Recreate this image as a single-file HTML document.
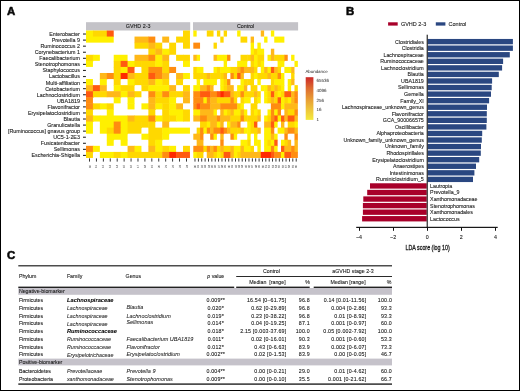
<!DOCTYPE html>
<html><head><meta charset="utf-8"><title>Figure</title>
<style>
html,body{margin:0;padding:0;background:#fff;}
body{width:520px;height:391px;overflow:hidden;}
.fig{position:relative;width:520px;height:391px;box-sizing:border-box;border:1px solid #000;background:#fff;}
svg{position:absolute;left:0;top:0;}
svg text{font-family:"Liberation Sans",sans-serif;stroke:#1a1a1a;stroke-width:0.1px;}
svg text.nb{stroke:none;}
</style></head><body>
<div class="fig"></div>
<svg width="520" height="391" viewBox="0 0 520 391">
<rect x="86" y="22.2" width="104.2" height="8.3" fill="#c4c3c8"/>
<rect x="193" y="22.2" width="105.1" height="8.3" fill="#c4c3c8"/>
<rect x="86.00" y="30.50" width="7.43" height="6.57" fill="#fff000"/>
<rect x="92.93" y="30.50" width="14.36" height="6.57" fill="#ffd800"/>
<rect x="106.79" y="30.50" width="6.93" height="6.57" fill="#ff5a10"/>
<rect x="183.02" y="30.50" width="6.93" height="6.57" fill="#ffd800"/>
<rect x="86.00" y="36.57" width="27.72" height="6.07" fill="#fff000"/>
<rect x="134.51" y="36.57" width="14.36" height="6.57" fill="#ffb818"/>
<rect x="148.37" y="36.57" width="6.93" height="6.57" fill="#ff8c10"/>
<rect x="162.23" y="36.57" width="6.93" height="6.07" fill="#ffb818"/>
<rect x="176.09" y="36.57" width="7.43" height="6.07" fill="#ffd800"/>
<rect x="183.02" y="36.57" width="6.93" height="6.57" fill="#ffd800"/>
<rect x="134.51" y="42.64" width="14.36" height="6.07" fill="#ffd800"/>
<rect x="148.37" y="42.64" width="7.43" height="6.57" fill="#ffb818"/>
<rect x="155.30" y="42.64" width="6.93" height="6.57" fill="#ffd800"/>
<rect x="169.16" y="42.64" width="6.93" height="6.57" fill="#ffd800"/>
<rect x="183.02" y="42.64" width="6.93" height="6.07" fill="#ffd800"/>
<rect x="148.37" y="48.71" width="7.43" height="6.57" fill="#ffd800"/>
<rect x="155.30" y="48.71" width="7.43" height="6.57" fill="#ffb818"/>
<rect x="162.23" y="48.71" width="7.43" height="6.57" fill="#fff000"/>
<rect x="169.16" y="48.71" width="6.93" height="6.07" fill="#ffd800"/>
<rect x="86.00" y="54.78" width="7.43" height="6.57" fill="#ffd800"/>
<rect x="92.93" y="54.78" width="6.93" height="6.07" fill="#fff000"/>
<rect x="113.72" y="54.78" width="13.86" height="6.57" fill="#fff000"/>
<rect x="134.51" y="54.78" width="14.36" height="6.57" fill="#ffb818"/>
<rect x="148.37" y="54.78" width="7.43" height="6.57" fill="#ff8c10"/>
<rect x="155.30" y="54.78" width="7.43" height="6.57" fill="#fff000"/>
<rect x="162.23" y="54.78" width="6.93" height="6.57" fill="#ffb818"/>
<rect x="176.09" y="54.78" width="7.43" height="6.07" fill="#ffd800"/>
<rect x="183.02" y="54.78" width="6.93" height="6.57" fill="#ffd800"/>
<rect x="86.00" y="60.85" width="6.93" height="6.07" fill="#fff000"/>
<rect x="113.72" y="60.85" width="7.43" height="6.57" fill="#ffd800"/>
<rect x="120.65" y="60.85" width="7.43" height="6.57" fill="#ff5a10"/>
<rect x="127.58" y="60.85" width="7.43" height="6.57" fill="#fff000"/>
<rect x="134.51" y="60.85" width="7.43" height="6.07" fill="#ffd800"/>
<rect x="141.44" y="60.85" width="14.36" height="6.57" fill="#ffd800"/>
<rect x="155.30" y="60.85" width="7.43" height="6.57" fill="#fff000"/>
<rect x="162.23" y="60.85" width="6.93" height="6.57" fill="#ffd800"/>
<rect x="183.02" y="60.85" width="6.93" height="6.07" fill="#fff000"/>
<rect x="113.72" y="66.92" width="7.43" height="6.57" fill="#ffd800"/>
<rect x="120.65" y="66.92" width="7.43" height="6.57" fill="#fff000"/>
<rect x="127.58" y="66.92" width="6.93" height="6.57" fill="#ff5a10"/>
<rect x="141.44" y="66.92" width="7.43" height="6.57" fill="#ffd800"/>
<rect x="148.37" y="66.92" width="14.36" height="6.57" fill="#ff8c10"/>
<rect x="162.23" y="66.92" width="7.43" height="6.57" fill="#ffd800"/>
<rect x="169.16" y="66.92" width="6.93" height="6.07" fill="#ff8c10"/>
<rect x="99.86" y="72.99" width="7.43" height="6.57" fill="#ffb818"/>
<rect x="106.79" y="72.99" width="7.43" height="6.07" fill="#ff8c10"/>
<rect x="113.72" y="72.99" width="7.43" height="6.57" fill="#ffd800"/>
<rect x="120.65" y="72.99" width="7.43" height="6.07" fill="#ff2a00"/>
<rect x="127.58" y="72.99" width="7.43" height="6.57" fill="#ffb818"/>
<rect x="134.51" y="72.99" width="14.36" height="6.57" fill="#ffd800"/>
<rect x="148.37" y="72.99" width="7.43" height="6.57" fill="#ff5a10"/>
<rect x="155.30" y="72.99" width="7.43" height="6.57" fill="#ff8c10"/>
<rect x="162.23" y="72.99" width="6.93" height="6.57" fill="#ffb818"/>
<rect x="176.09" y="72.99" width="7.43" height="6.57" fill="#ffb818"/>
<rect x="183.02" y="72.99" width="6.93" height="6.07" fill="#fff000"/>
<rect x="86.00" y="79.06" width="6.93" height="6.57" fill="#fff000"/>
<rect x="99.86" y="79.06" width="6.93" height="6.57" fill="#fff000"/>
<rect x="113.72" y="79.06" width="6.93" height="6.57" fill="#ffd800"/>
<rect x="127.58" y="79.06" width="7.43" height="6.57" fill="#fff000"/>
<rect x="134.51" y="79.06" width="7.43" height="6.07" fill="#ffd800"/>
<rect x="141.44" y="79.06" width="7.43" height="6.57" fill="#ffd800"/>
<rect x="148.37" y="79.06" width="7.43" height="6.57" fill="#ffb818"/>
<rect x="155.30" y="79.06" width="7.43" height="6.57" fill="#fff000"/>
<rect x="162.23" y="79.06" width="6.93" height="6.57" fill="#ffd800"/>
<rect x="176.09" y="79.06" width="6.93" height="6.07" fill="#ffd800"/>
<rect x="86.00" y="85.13" width="7.43" height="6.57" fill="#ffb818"/>
<rect x="92.93" y="85.13" width="7.43" height="6.57" fill="#ff5a10"/>
<rect x="99.86" y="85.13" width="6.93" height="6.57" fill="#ffb818"/>
<rect x="113.72" y="85.13" width="7.43" height="6.57" fill="#fff000"/>
<rect x="120.65" y="85.13" width="13.86" height="6.57" fill="#ffd800"/>
<rect x="141.44" y="85.13" width="7.43" height="6.07" fill="#ffd800"/>
<rect x="148.37" y="85.13" width="21.29" height="6.57" fill="#fff000"/>
<rect x="169.16" y="85.13" width="6.93" height="6.57" fill="#ffb818"/>
<rect x="183.02" y="85.13" width="6.93" height="6.57" fill="#ffd800"/>
<rect x="86.00" y="91.20" width="7.43" height="6.57" fill="#ff5a10"/>
<rect x="92.93" y="91.20" width="14.36" height="6.07" fill="#ffd800"/>
<rect x="106.79" y="91.20" width="7.43" height="6.07" fill="#ffb818"/>
<rect x="113.72" y="91.20" width="7.43" height="6.57" fill="#ffb818"/>
<rect x="120.65" y="91.20" width="7.43" height="6.07" fill="#fff000"/>
<rect x="127.58" y="91.20" width="7.43" height="6.57" fill="#ffb818"/>
<rect x="134.51" y="91.20" width="6.93" height="6.07" fill="#ffd800"/>
<rect x="148.37" y="91.20" width="7.43" height="6.57" fill="#ff8c10"/>
<rect x="155.30" y="91.20" width="7.43" height="6.57" fill="#ffd800"/>
<rect x="162.23" y="91.20" width="7.43" height="6.57" fill="#ff8c10"/>
<rect x="169.16" y="91.20" width="7.43" height="6.57" fill="#ffd800"/>
<rect x="176.09" y="91.20" width="7.43" height="6.07" fill="#ffd800"/>
<rect x="183.02" y="91.20" width="6.93" height="6.57" fill="#ffb818"/>
<rect x="86.00" y="97.27" width="6.93" height="6.57" fill="#ff8c10"/>
<rect x="113.72" y="97.27" width="6.93" height="6.07" fill="#fff000"/>
<rect x="127.58" y="97.27" width="6.93" height="6.57" fill="#fff000"/>
<rect x="148.37" y="97.27" width="7.43" height="6.57" fill="#ffb818"/>
<rect x="155.30" y="97.27" width="14.36" height="6.57" fill="#ffd800"/>
<rect x="169.16" y="97.27" width="6.93" height="6.57" fill="#fff000"/>
<rect x="183.02" y="97.27" width="6.93" height="6.07" fill="#ffb818"/>
<rect x="86.00" y="103.34" width="7.43" height="6.57" fill="#ff8c10"/>
<rect x="92.93" y="103.34" width="7.43" height="6.07" fill="#ffd800"/>
<rect x="99.86" y="103.34" width="7.43" height="6.07" fill="#fff000"/>
<rect x="106.79" y="103.34" width="6.93" height="6.57" fill="#ffd800"/>
<rect x="127.58" y="103.34" width="6.93" height="6.07" fill="#fff000"/>
<rect x="141.44" y="103.34" width="7.43" height="6.07" fill="#fff000"/>
<rect x="148.37" y="103.34" width="7.43" height="6.57" fill="#ffb818"/>
<rect x="155.30" y="103.34" width="7.43" height="6.07" fill="#fff000"/>
<rect x="162.23" y="103.34" width="7.43" height="6.57" fill="#ffd800"/>
<rect x="169.16" y="103.34" width="7.43" height="6.57" fill="#fff000"/>
<rect x="176.09" y="103.34" width="6.93" height="6.57" fill="#ffb818"/>
<rect x="86.00" y="109.41" width="6.93" height="6.57" fill="#ffd800"/>
<rect x="106.79" y="109.41" width="6.93" height="6.57" fill="#fff000"/>
<rect x="148.37" y="109.41" width="6.93" height="6.57" fill="#ffd800"/>
<rect x="162.23" y="109.41" width="7.43" height="6.57" fill="#ffd800"/>
<rect x="169.16" y="109.41" width="14.36" height="6.57" fill="#fff000"/>
<rect x="183.02" y="109.41" width="6.93" height="6.57" fill="#ffd800"/>
<rect x="86.00" y="115.48" width="7.43" height="6.57" fill="#ffb818"/>
<rect x="92.93" y="115.48" width="7.43" height="6.07" fill="#fff000"/>
<rect x="99.86" y="115.48" width="28.22" height="6.57" fill="#fff000"/>
<rect x="127.58" y="115.48" width="7.43" height="6.57" fill="#ffb818"/>
<rect x="134.51" y="115.48" width="14.36" height="6.57" fill="#ffd800"/>
<rect x="148.37" y="115.48" width="7.43" height="6.57" fill="#ff8c10"/>
<rect x="155.30" y="115.48" width="7.43" height="6.07" fill="#fff000"/>
<rect x="162.23" y="115.48" width="7.43" height="6.57" fill="#ffd800"/>
<rect x="169.16" y="115.48" width="7.43" height="6.07" fill="#ffd800"/>
<rect x="176.09" y="115.48" width="7.43" height="6.07" fill="#fff000"/>
<rect x="183.02" y="115.48" width="6.93" height="6.07" fill="#ffd800"/>
<rect x="86.00" y="121.55" width="6.93" height="6.57" fill="#fff000"/>
<rect x="99.86" y="121.55" width="14.36" height="6.57" fill="#fff000"/>
<rect x="113.72" y="121.55" width="7.43" height="6.57" fill="#ff8c10"/>
<rect x="120.65" y="121.55" width="7.43" height="6.57" fill="#fff000"/>
<rect x="127.58" y="121.55" width="14.36" height="6.57" fill="#ffd800"/>
<rect x="141.44" y="121.55" width="7.43" height="6.07" fill="#ffd800"/>
<rect x="148.37" y="121.55" width="6.93" height="6.57" fill="#ffd800"/>
<rect x="162.23" y="121.55" width="6.93" height="6.57" fill="#ffb818"/>
<rect x="86.00" y="127.62" width="6.93" height="6.07" fill="#fff000"/>
<rect x="99.86" y="127.62" width="7.43" height="6.07" fill="#fff000"/>
<rect x="106.79" y="127.62" width="7.43" height="6.57" fill="#ffd800"/>
<rect x="113.72" y="127.62" width="7.43" height="6.57" fill="#ff8c10"/>
<rect x="120.65" y="127.62" width="7.43" height="6.57" fill="#fff000"/>
<rect x="127.58" y="127.62" width="13.86" height="6.07" fill="#ffd800"/>
<rect x="148.37" y="127.62" width="14.36" height="6.57" fill="#ffd800"/>
<rect x="162.23" y="127.62" width="7.43" height="6.57" fill="#fff000"/>
<rect x="169.16" y="127.62" width="20.79" height="6.07" fill="#fff000"/>
<rect x="106.79" y="133.69" width="7.43" height="6.57" fill="#fff000"/>
<rect x="113.72" y="133.69" width="7.43" height="6.07" fill="#fff000"/>
<rect x="120.65" y="133.69" width="6.93" height="6.57" fill="#fff000"/>
<rect x="141.44" y="133.69" width="7.43" height="6.07" fill="#fff000"/>
<rect x="148.37" y="133.69" width="14.36" height="6.57" fill="#ffd800"/>
<rect x="162.23" y="133.69" width="6.93" height="6.07" fill="#fff000"/>
<rect x="106.79" y="139.76" width="6.93" height="6.07" fill="#fff000"/>
<rect x="120.65" y="139.76" width="6.93" height="6.07" fill="#fff000"/>
<rect x="148.37" y="139.76" width="7.43" height="6.57" fill="#ffd800"/>
<rect x="155.30" y="139.76" width="6.93" height="6.57" fill="#fff000"/>
<rect x="86.00" y="145.83" width="7.43" height="6.57" fill="#ff8c10"/>
<rect x="92.93" y="145.83" width="6.93" height="6.07" fill="#fff000"/>
<rect x="127.58" y="145.83" width="7.43" height="6.57" fill="#ffb818"/>
<rect x="134.51" y="145.83" width="6.93" height="6.57" fill="#fff000"/>
<rect x="148.37" y="145.83" width="7.43" height="6.57" fill="#ffb818"/>
<rect x="155.30" y="145.83" width="7.43" height="6.57" fill="#fff000"/>
<rect x="162.23" y="145.83" width="7.43" height="6.57" fill="#ffd800"/>
<rect x="169.16" y="145.83" width="6.93" height="6.57" fill="#fff000"/>
<rect x="183.02" y="145.83" width="6.93" height="6.57" fill="#ffd800"/>
<rect x="86.00" y="151.90" width="6.93" height="6.07" fill="#ffd800"/>
<rect x="99.86" y="151.90" width="14.36" height="6.07" fill="#fff000"/>
<rect x="113.72" y="151.90" width="7.43" height="6.07" fill="#ffd800"/>
<rect x="120.65" y="151.90" width="7.43" height="6.07" fill="#fff000"/>
<rect x="127.58" y="151.90" width="35.15" height="6.07" fill="#ffd800"/>
<rect x="162.23" y="151.90" width="7.43" height="6.07" fill="#ff8c10"/>
<rect x="169.16" y="151.90" width="7.43" height="6.07" fill="#ff2a00"/>
<rect x="176.09" y="151.90" width="13.86" height="6.07" fill="#ff5a10"/>
<rect x="193.30" y="30.50" width="3.37" height="6.07" fill="#fff000"/>
<rect x="206.79" y="30.50" width="6.75" height="6.07" fill="#ffd800"/>
<rect x="216.91" y="30.50" width="3.37" height="6.07" fill="#ffd800"/>
<rect x="223.66" y="30.50" width="3.37" height="6.07" fill="#ffd800"/>
<rect x="237.15" y="30.50" width="3.37" height="6.07" fill="#fff000"/>
<rect x="260.76" y="30.50" width="3.37" height="6.07" fill="#ffb818"/>
<rect x="270.88" y="30.50" width="3.37" height="6.07" fill="#fff000"/>
<rect x="220.28" y="36.57" width="3.37" height="6.07" fill="#ffd800"/>
<rect x="240.52" y="36.57" width="6.75" height="6.07" fill="#ffd800"/>
<rect x="250.64" y="36.57" width="3.37" height="6.57" fill="#ffb818"/>
<rect x="264.13" y="36.57" width="3.37" height="6.07" fill="#fff000"/>
<rect x="274.25" y="36.57" width="10.12" height="6.07" fill="#fff000"/>
<rect x="193.30" y="42.64" width="6.75" height="6.07" fill="#ff8c10"/>
<rect x="213.54" y="42.64" width="3.37" height="6.07" fill="#ffd800"/>
<rect x="250.64" y="42.64" width="3.37" height="6.57" fill="#fff000"/>
<rect x="257.39" y="42.64" width="3.37" height="6.57" fill="#fff000"/>
<rect x="250.64" y="48.71" width="3.87" height="6.57" fill="#fff000"/>
<rect x="254.01" y="48.71" width="3.87" height="6.57" fill="#ffd800"/>
<rect x="257.39" y="48.71" width="6.75" height="6.57" fill="#fff000"/>
<rect x="270.88" y="48.71" width="3.37" height="6.57" fill="#ffb818"/>
<rect x="193.30" y="54.78" width="3.87" height="6.07" fill="#ffb818"/>
<rect x="196.67" y="54.78" width="3.37" height="6.07" fill="#fff000"/>
<rect x="213.54" y="54.78" width="3.87" height="6.07" fill="#ffb818"/>
<rect x="216.91" y="54.78" width="7.25" height="6.07" fill="#fff000"/>
<rect x="223.66" y="54.78" width="3.87" height="6.57" fill="#fff000"/>
<rect x="227.03" y="54.78" width="3.37" height="6.07" fill="#ff8c10"/>
<rect x="240.52" y="54.78" width="7.25" height="6.57" fill="#ffd800"/>
<rect x="247.27" y="54.78" width="3.87" height="6.07" fill="#ffd800"/>
<rect x="250.64" y="54.78" width="3.87" height="6.57" fill="#ffb818"/>
<rect x="254.01" y="54.78" width="3.87" height="6.57" fill="#fff000"/>
<rect x="257.39" y="54.78" width="6.75" height="6.57" fill="#ffd800"/>
<rect x="267.51" y="54.78" width="3.87" height="6.07" fill="#fff000"/>
<rect x="270.88" y="54.78" width="3.87" height="6.07" fill="#ffb818"/>
<rect x="274.25" y="54.78" width="3.87" height="6.07" fill="#ffd800"/>
<rect x="277.62" y="54.78" width="7.25" height="6.57" fill="#ffd800"/>
<rect x="284.37" y="54.78" width="3.37" height="6.07" fill="#ff8c10"/>
<rect x="291.12" y="54.78" width="3.37" height="6.07" fill="#fff000"/>
<rect x="223.66" y="60.85" width="3.37" height="6.57" fill="#fff000"/>
<rect x="237.15" y="60.85" width="10.12" height="6.57" fill="#fff000"/>
<rect x="250.64" y="60.85" width="3.87" height="6.57" fill="#ffd800"/>
<rect x="254.01" y="60.85" width="3.87" height="6.57" fill="#fff000"/>
<rect x="257.39" y="60.85" width="3.87" height="6.07" fill="#ffd800"/>
<rect x="260.76" y="60.85" width="3.37" height="6.57" fill="#fff000"/>
<rect x="277.62" y="60.85" width="3.87" height="6.57" fill="#fff000"/>
<rect x="281.00" y="60.85" width="3.37" height="6.07" fill="#fff000"/>
<rect x="294.49" y="60.85" width="3.37" height="6.07" fill="#fff000"/>
<rect x="193.30" y="66.92" width="3.87" height="6.57" fill="#ffd800"/>
<rect x="196.67" y="66.92" width="6.75" height="6.57" fill="#fff000"/>
<rect x="213.54" y="66.92" width="3.87" height="6.57" fill="#fff000"/>
<rect x="216.91" y="66.92" width="3.87" height="6.57" fill="#ffd800"/>
<rect x="220.28" y="66.92" width="7.25" height="6.57" fill="#fff000"/>
<rect x="227.03" y="66.92" width="3.87" height="6.07" fill="#fff000"/>
<rect x="230.40" y="66.92" width="7.25" height="6.57" fill="#ffd800"/>
<rect x="237.15" y="66.92" width="3.87" height="6.57" fill="#ffb818"/>
<rect x="240.52" y="66.92" width="3.87" height="6.57" fill="#ff8c10"/>
<rect x="243.90" y="66.92" width="7.25" height="6.07" fill="#ffb818"/>
<rect x="250.64" y="66.92" width="3.87" height="6.57" fill="#ffb818"/>
<rect x="254.01" y="66.92" width="3.37" height="6.57" fill="#ffd800"/>
<rect x="260.76" y="66.92" width="3.87" height="6.57" fill="#fff000"/>
<rect x="264.13" y="66.92" width="3.87" height="6.57" fill="#ffb818"/>
<rect x="267.51" y="66.92" width="3.87" height="6.57" fill="#fff000"/>
<rect x="270.88" y="66.92" width="3.87" height="6.57" fill="#ff5a10"/>
<rect x="274.25" y="66.92" width="3.87" height="6.57" fill="#ffb818"/>
<rect x="277.62" y="66.92" width="3.37" height="6.57" fill="#ffd800"/>
<rect x="284.37" y="66.92" width="7.25" height="6.07" fill="#fff000"/>
<rect x="291.12" y="66.92" width="3.37" height="6.57" fill="#ffb818"/>
<rect x="193.30" y="72.99" width="3.87" height="6.07" fill="#ffd800"/>
<rect x="196.67" y="72.99" width="3.87" height="6.57" fill="#ffd800"/>
<rect x="200.05" y="72.99" width="3.87" height="6.07" fill="#ffd800"/>
<rect x="203.42" y="72.99" width="3.87" height="6.57" fill="#ffd800"/>
<rect x="206.79" y="72.99" width="3.87" height="6.57" fill="#ffb818"/>
<rect x="210.17" y="72.99" width="7.25" height="6.57" fill="#ffd800"/>
<rect x="216.91" y="72.99" width="3.87" height="6.07" fill="#ffd800"/>
<rect x="220.28" y="72.99" width="3.87" height="6.57" fill="#ffd800"/>
<rect x="223.66" y="72.99" width="3.37" height="6.57" fill="#ffb818"/>
<rect x="230.40" y="72.99" width="3.87" height="6.07" fill="#ff8c10"/>
<rect x="233.78" y="72.99" width="3.87" height="6.07" fill="#ffd800"/>
<rect x="237.15" y="72.99" width="3.87" height="6.07" fill="#ff5a10"/>
<rect x="240.52" y="72.99" width="3.37" height="6.57" fill="#ffb818"/>
<rect x="250.64" y="72.99" width="3.87" height="6.57" fill="#ffd800"/>
<rect x="254.01" y="72.99" width="3.87" height="6.07" fill="#fff000"/>
<rect x="257.39" y="72.99" width="3.87" height="6.57" fill="#ffd800"/>
<rect x="260.76" y="72.99" width="7.25" height="6.07" fill="#ffd800"/>
<rect x="267.51" y="72.99" width="3.87" height="6.07" fill="#ffb818"/>
<rect x="270.88" y="72.99" width="7.25" height="6.57" fill="#ffd800"/>
<rect x="277.62" y="72.99" width="3.87" height="6.57" fill="#ff8c10"/>
<rect x="281.00" y="72.99" width="3.37" height="6.57" fill="#fff000"/>
<rect x="291.12" y="72.99" width="3.37" height="6.57" fill="#ffd800"/>
<rect x="196.67" y="79.06" width="3.37" height="6.57" fill="#fff000"/>
<rect x="203.42" y="79.06" width="10.62" height="6.57" fill="#fff000"/>
<rect x="213.54" y="79.06" width="3.37" height="6.07" fill="#fff000"/>
<rect x="220.28" y="79.06" width="3.87" height="6.57" fill="#fff000"/>
<rect x="223.66" y="79.06" width="3.87" height="6.57" fill="#ffd800"/>
<rect x="227.03" y="79.06" width="3.37" height="6.57" fill="#ff8c10"/>
<rect x="240.52" y="79.06" width="3.87" height="6.57" fill="#fff000"/>
<rect x="243.90" y="79.06" width="3.87" height="6.57" fill="#ffd800"/>
<rect x="247.27" y="79.06" width="3.87" height="6.07" fill="#ffd800"/>
<rect x="250.64" y="79.06" width="3.37" height="6.57" fill="#ffd800"/>
<rect x="257.39" y="79.06" width="3.37" height="6.07" fill="#fff000"/>
<rect x="270.88" y="79.06" width="3.87" height="6.57" fill="#ffd800"/>
<rect x="274.25" y="79.06" width="10.12" height="6.57" fill="#fff000"/>
<rect x="287.74" y="79.06" width="3.87" height="6.57" fill="#fff000"/>
<rect x="291.12" y="79.06" width="3.37" height="6.07" fill="#ffb818"/>
<rect x="193.30" y="85.13" width="7.25" height="6.57" fill="#fff000"/>
<rect x="200.05" y="85.13" width="7.25" height="6.57" fill="#ffb818"/>
<rect x="206.79" y="85.13" width="3.87" height="6.57" fill="#ff8c10"/>
<rect x="210.17" y="85.13" width="3.37" height="6.57" fill="#ffb818"/>
<rect x="220.28" y="85.13" width="3.87" height="6.57" fill="#fff000"/>
<rect x="223.66" y="85.13" width="3.87" height="6.57" fill="#ffd800"/>
<rect x="227.03" y="85.13" width="6.75" height="6.57" fill="#ffb818"/>
<rect x="237.15" y="85.13" width="7.25" height="6.57" fill="#fff000"/>
<rect x="243.90" y="85.13" width="3.37" height="6.57" fill="#ffb818"/>
<rect x="250.64" y="85.13" width="6.75" height="6.57" fill="#ffd800"/>
<rect x="260.76" y="85.13" width="3.87" height="6.07" fill="#fff000"/>
<rect x="264.13" y="85.13" width="3.87" height="6.57" fill="#fff000"/>
<rect x="267.51" y="85.13" width="3.87" height="6.57" fill="#ffb818"/>
<rect x="270.88" y="85.13" width="3.87" height="6.57" fill="#ffd800"/>
<rect x="274.25" y="85.13" width="3.87" height="6.57" fill="#ffb818"/>
<rect x="277.62" y="85.13" width="3.87" height="6.57" fill="#ffd800"/>
<rect x="281.00" y="85.13" width="3.37" height="6.57" fill="#fff000"/>
<rect x="287.74" y="85.13" width="3.37" height="6.57" fill="#fff000"/>
<rect x="294.49" y="85.13" width="3.37" height="6.57" fill="#ffd800"/>
<rect x="193.30" y="91.20" width="7.25" height="6.57" fill="#ff8c10"/>
<rect x="200.05" y="91.20" width="10.62" height="6.57" fill="#ff5a10"/>
<rect x="210.17" y="91.20" width="7.25" height="6.57" fill="#ff8c10"/>
<rect x="216.91" y="91.20" width="3.87" height="6.57" fill="#ff5a10"/>
<rect x="220.28" y="91.20" width="3.87" height="6.57" fill="#ff2a00"/>
<rect x="223.66" y="91.20" width="7.25" height="6.57" fill="#ff5a10"/>
<rect x="230.40" y="91.20" width="3.87" height="6.57" fill="#ffb818"/>
<rect x="233.78" y="91.20" width="3.87" height="6.57" fill="#ffd800"/>
<rect x="237.15" y="91.20" width="3.87" height="6.07" fill="#ffd800"/>
<rect x="240.52" y="91.20" width="3.87" height="6.57" fill="#ff8c10"/>
<rect x="243.90" y="91.20" width="7.25" height="6.57" fill="#ffd800"/>
<rect x="250.64" y="91.20" width="3.87" height="6.07" fill="#ffd800"/>
<rect x="254.01" y="91.20" width="3.87" height="6.57" fill="#ffb818"/>
<rect x="257.39" y="91.20" width="3.37" height="6.57" fill="#ffd800"/>
<rect x="264.13" y="91.20" width="3.87" height="6.57" fill="#fff000"/>
<rect x="267.51" y="91.20" width="3.87" height="6.57" fill="#ffd800"/>
<rect x="270.88" y="91.20" width="3.87" height="6.57" fill="#ff5a10"/>
<rect x="274.25" y="91.20" width="3.87" height="6.57" fill="#ffd800"/>
<rect x="277.62" y="91.20" width="3.87" height="6.57" fill="#fff000"/>
<rect x="281.00" y="91.20" width="3.87" height="6.57" fill="#ffd800"/>
<rect x="284.37" y="91.20" width="7.25" height="6.57" fill="#ff5a10"/>
<rect x="291.12" y="91.20" width="3.87" height="6.57" fill="#ffb818"/>
<rect x="294.49" y="91.20" width="3.37" height="6.57" fill="#ff8c10"/>
<rect x="193.30" y="97.27" width="10.62" height="6.57" fill="#ff8c10"/>
<rect x="203.42" y="97.27" width="3.87" height="6.57" fill="#fff000"/>
<rect x="206.79" y="97.27" width="3.87" height="6.57" fill="#ff8c10"/>
<rect x="210.17" y="97.27" width="7.25" height="6.57" fill="#ffb818"/>
<rect x="216.91" y="97.27" width="13.99" height="6.57" fill="#ffd800"/>
<rect x="230.40" y="97.27" width="3.87" height="6.57" fill="#ff8c10"/>
<rect x="233.78" y="97.27" width="3.37" height="6.57" fill="#ffd800"/>
<rect x="240.52" y="97.27" width="3.87" height="6.57" fill="#ffd800"/>
<rect x="243.90" y="97.27" width="6.75" height="6.07" fill="#fff000"/>
<rect x="254.01" y="97.27" width="3.87" height="6.57" fill="#ffd800"/>
<rect x="257.39" y="97.27" width="3.37" height="6.07" fill="#fff000"/>
<rect x="264.13" y="97.27" width="3.87" height="6.07" fill="#fff000"/>
<rect x="267.51" y="97.27" width="3.87" height="6.07" fill="#ffd800"/>
<rect x="270.88" y="97.27" width="3.87" height="6.57" fill="#ffb818"/>
<rect x="274.25" y="97.27" width="3.87" height="6.57" fill="#ffd800"/>
<rect x="277.62" y="97.27" width="3.87" height="6.57" fill="#ff5a10"/>
<rect x="281.00" y="97.27" width="3.87" height="6.57" fill="#fff000"/>
<rect x="284.37" y="97.27" width="3.87" height="6.57" fill="#ffd800"/>
<rect x="287.74" y="97.27" width="3.87" height="6.57" fill="#fff000"/>
<rect x="291.12" y="97.27" width="3.87" height="6.57" fill="#ffb818"/>
<rect x="294.49" y="97.27" width="3.37" height="6.57" fill="#ff8c10"/>
<rect x="193.30" y="103.34" width="3.87" height="6.57" fill="#ff8c10"/>
<rect x="196.67" y="103.34" width="3.87" height="6.57" fill="#ff5a10"/>
<rect x="200.05" y="103.34" width="10.62" height="6.57" fill="#ff8c10"/>
<rect x="210.17" y="103.34" width="7.25" height="6.57" fill="#ffb818"/>
<rect x="216.91" y="103.34" width="3.87" height="6.07" fill="#ffb818"/>
<rect x="220.28" y="103.34" width="17.37" height="6.57" fill="#ff8c10"/>
<rect x="237.15" y="103.34" width="3.87" height="6.57" fill="#ffd800"/>
<rect x="240.52" y="103.34" width="3.37" height="6.57" fill="#fff000"/>
<rect x="250.64" y="103.34" width="6.75" height="6.57" fill="#ffd800"/>
<rect x="270.88" y="103.34" width="10.62" height="6.57" fill="#ff8c10"/>
<rect x="281.00" y="103.34" width="3.87" height="6.07" fill="#fff000"/>
<rect x="284.37" y="103.34" width="13.49" height="6.57" fill="#ffb818"/>
<rect x="193.30" y="109.41" width="7.25" height="6.57" fill="#fff000"/>
<rect x="200.05" y="109.41" width="13.99" height="6.57" fill="#ffb818"/>
<rect x="213.54" y="109.41" width="3.37" height="6.57" fill="#fff000"/>
<rect x="220.28" y="109.41" width="3.87" height="6.57" fill="#ffb818"/>
<rect x="223.66" y="109.41" width="3.87" height="6.57" fill="#fff000"/>
<rect x="227.03" y="109.41" width="3.87" height="6.57" fill="#ffd800"/>
<rect x="230.40" y="109.41" width="3.87" height="6.57" fill="#ffb818"/>
<rect x="233.78" y="109.41" width="7.25" height="6.57" fill="#fff000"/>
<rect x="240.52" y="109.41" width="3.87" height="6.57" fill="#ffb818"/>
<rect x="243.90" y="109.41" width="3.37" height="6.57" fill="#fff000"/>
<rect x="250.64" y="109.41" width="3.87" height="6.57" fill="#ffd800"/>
<rect x="254.01" y="109.41" width="3.87" height="6.57" fill="#fff000"/>
<rect x="257.39" y="109.41" width="3.37" height="6.57" fill="#ffd800"/>
<rect x="267.51" y="109.41" width="3.87" height="6.57" fill="#fff000"/>
<rect x="270.88" y="109.41" width="3.87" height="6.57" fill="#ff8c10"/>
<rect x="274.25" y="109.41" width="3.87" height="6.57" fill="#fff000"/>
<rect x="277.62" y="109.41" width="3.37" height="6.57" fill="#ff8c10"/>
<rect x="284.37" y="109.41" width="3.87" height="6.57" fill="#ffb818"/>
<rect x="287.74" y="109.41" width="7.25" height="6.57" fill="#ffd800"/>
<rect x="294.49" y="109.41" width="3.37" height="6.57" fill="#ff8c10"/>
<rect x="193.30" y="115.48" width="7.25" height="6.07" fill="#ffb818"/>
<rect x="200.05" y="115.48" width="7.25" height="6.57" fill="#ff8c10"/>
<rect x="206.79" y="115.48" width="10.62" height="6.57" fill="#ffb818"/>
<rect x="216.91" y="115.48" width="3.87" height="6.57" fill="#ff8c10"/>
<rect x="220.28" y="115.48" width="3.87" height="6.57" fill="#ffb818"/>
<rect x="223.66" y="115.48" width="3.87" height="6.07" fill="#ffb818"/>
<rect x="227.03" y="115.48" width="3.87" height="6.57" fill="#ffb818"/>
<rect x="230.40" y="115.48" width="10.62" height="6.57" fill="#ffd800"/>
<rect x="240.52" y="115.48" width="3.87" height="6.07" fill="#ff8c10"/>
<rect x="243.90" y="115.48" width="3.87" height="6.07" fill="#ffd800"/>
<rect x="247.27" y="115.48" width="10.62" height="6.57" fill="#ffd800"/>
<rect x="257.39" y="115.48" width="3.37" height="6.07" fill="#ffb818"/>
<rect x="264.13" y="115.48" width="3.87" height="6.57" fill="#fff000"/>
<rect x="267.51" y="115.48" width="3.87" height="6.57" fill="#ffd800"/>
<rect x="270.88" y="115.48" width="3.87" height="6.57" fill="#ff8c10"/>
<rect x="274.25" y="115.48" width="3.87" height="6.57" fill="#ff5a10"/>
<rect x="277.62" y="115.48" width="3.87" height="6.07" fill="#fff000"/>
<rect x="281.00" y="115.48" width="3.87" height="6.57" fill="#ff5a10"/>
<rect x="284.37" y="115.48" width="3.87" height="6.07" fill="#ffb818"/>
<rect x="287.74" y="115.48" width="7.25" height="6.57" fill="#ff5a10"/>
<rect x="294.49" y="115.48" width="3.37" height="6.57" fill="#ffb818"/>
<rect x="200.05" y="121.55" width="7.25" height="6.57" fill="#ffd800"/>
<rect x="206.79" y="121.55" width="3.87" height="6.57" fill="#fff000"/>
<rect x="210.17" y="121.55" width="7.25" height="6.57" fill="#ffb818"/>
<rect x="216.91" y="121.55" width="3.87" height="6.57" fill="#fff000"/>
<rect x="220.28" y="121.55" width="3.37" height="6.57" fill="#ffb818"/>
<rect x="227.03" y="121.55" width="3.87" height="6.57" fill="#fff000"/>
<rect x="230.40" y="121.55" width="7.25" height="6.57" fill="#ffb818"/>
<rect x="237.15" y="121.55" width="3.37" height="6.57" fill="#ff8c10"/>
<rect x="247.27" y="121.55" width="3.87" height="6.57" fill="#fff000"/>
<rect x="250.64" y="121.55" width="3.87" height="6.57" fill="#ffd800"/>
<rect x="254.01" y="121.55" width="3.37" height="6.57" fill="#ff5a10"/>
<rect x="264.13" y="121.55" width="7.25" height="6.57" fill="#ffb818"/>
<rect x="270.88" y="121.55" width="3.87" height="6.57" fill="#ff5a10"/>
<rect x="274.25" y="121.55" width="3.37" height="6.07" fill="#fff000"/>
<rect x="281.00" y="121.55" width="3.37" height="6.57" fill="#ffb818"/>
<rect x="287.74" y="121.55" width="7.25" height="6.57" fill="#ffd800"/>
<rect x="294.49" y="121.55" width="3.37" height="6.57" fill="#fff000"/>
<rect x="196.67" y="127.62" width="3.87" height="6.57" fill="#ffd800"/>
<rect x="200.05" y="127.62" width="3.87" height="6.57" fill="#ff8c10"/>
<rect x="203.42" y="127.62" width="3.87" height="6.07" fill="#fff000"/>
<rect x="206.79" y="127.62" width="3.87" height="6.07" fill="#ff8c10"/>
<rect x="210.17" y="127.62" width="3.87" height="6.57" fill="#ffb818"/>
<rect x="213.54" y="127.62" width="3.87" height="6.57" fill="#ff8c10"/>
<rect x="216.91" y="127.62" width="3.87" height="6.07" fill="#ff8c10"/>
<rect x="220.28" y="127.62" width="3.87" height="6.57" fill="#ff5a10"/>
<rect x="223.66" y="127.62" width="3.87" height="6.07" fill="#ff8c10"/>
<rect x="227.03" y="127.62" width="3.87" height="6.07" fill="#ffb818"/>
<rect x="230.40" y="127.62" width="7.25" height="6.57" fill="#ffd800"/>
<rect x="237.15" y="127.62" width="3.87" height="6.07" fill="#ffd800"/>
<rect x="240.52" y="127.62" width="3.87" height="6.07" fill="#ffb818"/>
<rect x="243.90" y="127.62" width="3.87" height="6.07" fill="#fff000"/>
<rect x="247.27" y="127.62" width="3.87" height="6.57" fill="#fff000"/>
<rect x="250.64" y="127.62" width="3.87" height="6.07" fill="#ffd800"/>
<rect x="254.01" y="127.62" width="3.87" height="6.57" fill="#ffd800"/>
<rect x="257.39" y="127.62" width="3.37" height="6.07" fill="#ffb818"/>
<rect x="264.13" y="127.62" width="7.25" height="6.57" fill="#fff000"/>
<rect x="270.88" y="127.62" width="3.37" height="6.57" fill="#ff8c10"/>
<rect x="277.62" y="127.62" width="7.25" height="6.07" fill="#fff000"/>
<rect x="284.37" y="127.62" width="3.87" height="6.57" fill="#ffb818"/>
<rect x="287.74" y="127.62" width="7.25" height="6.07" fill="#ff8c10"/>
<rect x="294.49" y="127.62" width="3.37" height="6.57" fill="#ffb818"/>
<rect x="193.30" y="133.69" width="3.87" height="6.07" fill="#ffb818"/>
<rect x="196.67" y="133.69" width="3.87" height="6.57" fill="#ffb818"/>
<rect x="200.05" y="133.69" width="3.37" height="6.57" fill="#ff8c10"/>
<rect x="210.17" y="133.69" width="3.87" height="6.07" fill="#ff8c10"/>
<rect x="213.54" y="133.69" width="3.37" height="6.07" fill="#fff000"/>
<rect x="220.28" y="133.69" width="3.37" height="6.57" fill="#ffb818"/>
<rect x="230.40" y="133.69" width="3.87" height="6.07" fill="#ff8c10"/>
<rect x="233.78" y="133.69" width="3.37" height="6.07" fill="#fff000"/>
<rect x="247.27" y="133.69" width="3.37" height="6.57" fill="#fff000"/>
<rect x="254.01" y="133.69" width="3.37" height="6.57" fill="#fff000"/>
<rect x="264.13" y="133.69" width="7.25" height="6.57" fill="#fff000"/>
<rect x="270.88" y="133.69" width="3.87" height="6.57" fill="#ffb818"/>
<rect x="274.25" y="133.69" width="3.37" height="6.57" fill="#fff000"/>
<rect x="284.37" y="133.69" width="3.37" height="6.57" fill="#ff8c10"/>
<rect x="294.49" y="133.69" width="3.37" height="6.57" fill="#ff8c10"/>
<rect x="196.67" y="139.76" width="6.75" height="6.57" fill="#ffb818"/>
<rect x="220.28" y="139.76" width="3.37" height="6.57" fill="#ff8c10"/>
<rect x="240.52" y="139.76" width="7.25" height="6.57" fill="#fff000"/>
<rect x="247.27" y="139.76" width="3.37" height="6.57" fill="#ffd800"/>
<rect x="254.01" y="139.76" width="3.87" height="6.07" fill="#fff000"/>
<rect x="257.39" y="139.76" width="3.37" height="6.57" fill="#fff000"/>
<rect x="264.13" y="139.76" width="3.87" height="6.57" fill="#fff000"/>
<rect x="267.51" y="139.76" width="3.87" height="6.57" fill="#ffd800"/>
<rect x="270.88" y="139.76" width="3.87" height="6.57" fill="#fff000"/>
<rect x="274.25" y="139.76" width="3.37" height="6.57" fill="#ff5a10"/>
<rect x="281.00" y="139.76" width="3.87" height="6.57" fill="#fff000"/>
<rect x="284.37" y="139.76" width="3.87" height="6.57" fill="#ffd800"/>
<rect x="287.74" y="139.76" width="3.37" height="6.57" fill="#ffb818"/>
<rect x="294.49" y="139.76" width="3.37" height="6.57" fill="#ffb818"/>
<rect x="193.30" y="145.83" width="10.62" height="6.57" fill="#ff8c10"/>
<rect x="203.42" y="145.83" width="3.87" height="6.07" fill="#ffd800"/>
<rect x="206.79" y="145.83" width="3.87" height="6.57" fill="#ff8c10"/>
<rect x="210.17" y="145.83" width="3.87" height="6.57" fill="#ffb818"/>
<rect x="213.54" y="145.83" width="3.87" height="6.57" fill="#ff8c10"/>
<rect x="216.91" y="145.83" width="3.87" height="6.57" fill="#ffd800"/>
<rect x="220.28" y="145.83" width="3.87" height="6.57" fill="#ffb818"/>
<rect x="223.66" y="145.83" width="7.25" height="6.57" fill="#ffd800"/>
<rect x="230.40" y="145.83" width="3.87" height="6.57" fill="#ffb818"/>
<rect x="233.78" y="145.83" width="7.25" height="6.57" fill="#fff000"/>
<rect x="240.52" y="145.83" width="3.87" height="6.57" fill="#ffb818"/>
<rect x="243.90" y="145.83" width="7.25" height="6.57" fill="#fff000"/>
<rect x="250.64" y="145.83" width="3.37" height="6.57" fill="#ffd800"/>
<rect x="257.39" y="145.83" width="3.37" height="6.57" fill="#fff000"/>
<rect x="264.13" y="145.83" width="7.25" height="6.57" fill="#fff000"/>
<rect x="270.88" y="145.83" width="3.87" height="6.57" fill="#ff8c10"/>
<rect x="274.25" y="145.83" width="3.37" height="6.57" fill="#fff000"/>
<rect x="281.00" y="145.83" width="3.87" height="6.57" fill="#ff5a10"/>
<rect x="284.37" y="145.83" width="7.25" height="6.57" fill="#ffb818"/>
<rect x="291.12" y="145.83" width="3.87" height="6.57" fill="#ff8c10"/>
<rect x="294.49" y="145.83" width="3.37" height="6.57" fill="#ffb818"/>
<rect x="193.30" y="151.90" width="3.87" height="6.07" fill="#fff000"/>
<rect x="196.67" y="151.90" width="6.75" height="6.07" fill="#ffd800"/>
<rect x="206.79" y="151.90" width="7.25" height="6.07" fill="#ffb818"/>
<rect x="213.54" y="151.90" width="3.87" height="6.07" fill="#ffd800"/>
<rect x="216.91" y="151.90" width="3.87" height="6.07" fill="#fff000"/>
<rect x="220.28" y="151.90" width="3.87" height="6.07" fill="#ffd800"/>
<rect x="223.66" y="151.90" width="7.25" height="6.07" fill="#ff5a10"/>
<rect x="230.40" y="151.90" width="3.87" height="6.07" fill="#ffb818"/>
<rect x="233.78" y="151.90" width="3.87" height="6.07" fill="#fff000"/>
<rect x="237.15" y="151.90" width="3.87" height="6.07" fill="#ffd800"/>
<rect x="240.52" y="151.90" width="20.74" height="6.07" fill="#ffb818"/>
<rect x="260.76" y="151.90" width="10.62" height="6.07" fill="#ff2a00"/>
<rect x="270.88" y="151.90" width="3.87" height="6.07" fill="#ff5a10"/>
<rect x="274.25" y="151.90" width="7.25" height="6.07" fill="#ff8c10"/>
<rect x="281.00" y="151.90" width="3.87" height="6.07" fill="#fff000"/>
<rect x="284.37" y="151.90" width="7.25" height="6.07" fill="#ff5a10"/>
<rect x="291.12" y="151.90" width="6.75" height="6.07" fill="#ff8c10"/>
<rect x="83" y="33.48" width="2.9" height="1.1" fill="#2a2a2a"/>
<rect x="83" y="39.56" width="2.9" height="1.1" fill="#2a2a2a"/>
<rect x="83" y="45.62" width="2.9" height="1.1" fill="#2a2a2a"/>
<rect x="83" y="51.70" width="2.9" height="1.1" fill="#2a2a2a"/>
<rect x="83" y="57.77" width="2.9" height="1.1" fill="#2a2a2a"/>
<rect x="83" y="63.84" width="2.9" height="1.1" fill="#2a2a2a"/>
<rect x="83" y="69.91" width="2.9" height="1.1" fill="#2a2a2a"/>
<rect x="83" y="75.98" width="2.9" height="1.1" fill="#2a2a2a"/>
<rect x="83" y="82.05" width="2.9" height="1.1" fill="#2a2a2a"/>
<rect x="83" y="88.12" width="2.9" height="1.1" fill="#2a2a2a"/>
<rect x="83" y="94.19" width="2.9" height="1.1" fill="#2a2a2a"/>
<rect x="83" y="100.26" width="2.9" height="1.1" fill="#2a2a2a"/>
<rect x="83" y="106.33" width="2.9" height="1.1" fill="#2a2a2a"/>
<rect x="83" y="112.40" width="2.9" height="1.1" fill="#2a2a2a"/>
<rect x="83" y="118.47" width="2.9" height="1.1" fill="#2a2a2a"/>
<rect x="83" y="124.54" width="2.9" height="1.1" fill="#2a2a2a"/>
<rect x="83" y="130.60" width="2.9" height="1.1" fill="#2a2a2a"/>
<rect x="83" y="136.68" width="2.9" height="1.1" fill="#2a2a2a"/>
<rect x="83" y="142.75" width="2.9" height="1.1" fill="#2a2a2a"/>
<rect x="83" y="148.81" width="2.9" height="1.1" fill="#2a2a2a"/>
<rect x="83" y="154.88" width="2.9" height="1.1" fill="#2a2a2a"/>
<rect x="89.02" y="158.4" width="0.9" height="3.2" fill="#222"/>
<rect x="95.94" y="158.4" width="0.9" height="3.2" fill="#222"/>
<rect x="102.88" y="158.4" width="0.9" height="3.2" fill="#222"/>
<rect x="109.80" y="158.4" width="0.9" height="3.2" fill="#222"/>
<rect x="116.73" y="158.4" width="0.9" height="3.2" fill="#222"/>
<rect x="123.66" y="158.4" width="0.9" height="3.2" fill="#222"/>
<rect x="130.60" y="158.4" width="0.9" height="3.2" fill="#222"/>
<rect x="137.53" y="158.4" width="0.9" height="3.2" fill="#222"/>
<rect x="144.46" y="158.4" width="0.9" height="3.2" fill="#222"/>
<rect x="151.38" y="158.4" width="0.9" height="3.2" fill="#222"/>
<rect x="158.31" y="158.4" width="0.9" height="3.2" fill="#222"/>
<rect x="165.25" y="158.4" width="0.9" height="3.2" fill="#222"/>
<rect x="172.18" y="158.4" width="0.9" height="3.2" fill="#222"/>
<rect x="179.11" y="158.4" width="0.9" height="3.2" fill="#222"/>
<rect x="186.04" y="158.4" width="0.9" height="3.2" fill="#222"/>
<rect x="194.54" y="158.4" width="0.9" height="3.2" fill="#222"/>
<rect x="197.91" y="158.4" width="0.9" height="3.2" fill="#222"/>
<rect x="201.28" y="158.4" width="0.9" height="3.2" fill="#222"/>
<rect x="204.66" y="158.4" width="0.9" height="3.2" fill="#222"/>
<rect x="208.03" y="158.4" width="0.9" height="3.2" fill="#222"/>
<rect x="211.40" y="158.4" width="0.9" height="3.2" fill="#222"/>
<rect x="214.77" y="158.4" width="0.9" height="3.2" fill="#222"/>
<rect x="218.15" y="158.4" width="0.9" height="3.2" fill="#222"/>
<rect x="221.52" y="158.4" width="0.9" height="3.2" fill="#222"/>
<rect x="224.89" y="158.4" width="0.9" height="3.2" fill="#222"/>
<rect x="228.27" y="158.4" width="0.9" height="3.2" fill="#222"/>
<rect x="231.64" y="158.4" width="0.9" height="3.2" fill="#222"/>
<rect x="235.01" y="158.4" width="0.9" height="3.2" fill="#222"/>
<rect x="238.39" y="158.4" width="0.9" height="3.2" fill="#222"/>
<rect x="241.76" y="158.4" width="0.9" height="3.2" fill="#222"/>
<rect x="245.13" y="158.4" width="0.9" height="3.2" fill="#222"/>
<rect x="248.50" y="158.4" width="0.9" height="3.2" fill="#222"/>
<rect x="251.88" y="158.4" width="0.9" height="3.2" fill="#222"/>
<rect x="255.25" y="158.4" width="0.9" height="3.2" fill="#222"/>
<rect x="258.62" y="158.4" width="0.9" height="3.2" fill="#222"/>
<rect x="262.00" y="158.4" width="0.9" height="3.2" fill="#222"/>
<rect x="265.37" y="158.4" width="0.9" height="3.2" fill="#222"/>
<rect x="268.74" y="158.4" width="0.9" height="3.2" fill="#222"/>
<rect x="272.12" y="158.4" width="0.9" height="3.2" fill="#222"/>
<rect x="275.49" y="158.4" width="0.9" height="3.2" fill="#222"/>
<rect x="278.86" y="158.4" width="0.9" height="3.2" fill="#222"/>
<rect x="282.23" y="158.4" width="0.9" height="3.2" fill="#222"/>
<rect x="285.61" y="158.4" width="0.9" height="3.2" fill="#222"/>
<rect x="288.98" y="158.4" width="0.9" height="3.2" fill="#222"/>
<rect x="292.35" y="158.4" width="0.9" height="3.2" fill="#222"/>
<rect x="295.73" y="158.4" width="0.9" height="3.2" fill="#222"/>
<defs><linearGradient id="lg" x1="0" y1="1" x2="0" y2="0"><stop offset="0" stop-color="#f4ea3c"/><stop offset="0.25" stop-color="#eec43a"/><stop offset="0.5" stop-color="#e79a34"/><stop offset="0.75" stop-color="#dd6a30"/><stop offset="1" stop-color="#cc2828"/></linearGradient></defs>
<rect x="305.7" y="77.2" width="7.7" height="42.7" fill="url(#lg)"/>
<rect x="388.1" y="22.3" width="9.6" height="3.3" fill="#a8002a"/>
<rect x="435.8" y="22.3" width="9.6" height="3.3" fill="#2a4781"/>
<rect x="427.70" y="38.95" width="85.20" height="5.35" fill="#2a4781"/>
<rect x="427.70" y="45.51" width="85.20" height="5.35" fill="#2a4781"/>
<rect x="427.70" y="52.07" width="82.10" height="5.35" fill="#2a4781"/>
<rect x="427.70" y="58.63" width="75.40" height="5.35" fill="#2a4781"/>
<rect x="427.70" y="65.19" width="74.40" height="5.35" fill="#2a4781"/>
<rect x="427.70" y="71.75" width="71.10" height="5.35" fill="#2a4781"/>
<rect x="427.70" y="78.31" width="64.40" height="5.35" fill="#2a4781"/>
<rect x="427.70" y="84.87" width="64.00" height="5.35" fill="#2a4781"/>
<rect x="427.70" y="91.43" width="63.30" height="5.35" fill="#2a4781"/>
<rect x="427.70" y="97.99" width="61.40" height="5.35" fill="#2a4781"/>
<rect x="427.70" y="104.55" width="59.30" height="5.35" fill="#2a4781"/>
<rect x="427.70" y="111.11" width="59.10" height="5.35" fill="#2a4781"/>
<rect x="427.70" y="117.67" width="59.10" height="5.35" fill="#2a4781"/>
<rect x="427.70" y="124.23" width="58.70" height="5.35" fill="#2a4781"/>
<rect x="427.70" y="130.79" width="54.50" height="5.35" fill="#2a4781"/>
<rect x="427.70" y="137.35" width="54.10" height="5.35" fill="#2a4781"/>
<rect x="427.70" y="143.91" width="53.30" height="5.35" fill="#2a4781"/>
<rect x="427.70" y="150.47" width="53.10" height="5.35" fill="#2a4781"/>
<rect x="427.70" y="157.03" width="51.50" height="5.35" fill="#2a4781"/>
<rect x="427.70" y="163.59" width="48.30" height="5.35" fill="#2a4781"/>
<rect x="427.70" y="170.15" width="46.70" height="5.35" fill="#2a4781"/>
<rect x="427.70" y="176.71" width="45.30" height="5.35" fill="#2a4781"/>
<rect x="370.00" y="183.27" width="56.70" height="5.35" fill="#a8002a"/>
<rect x="367.20" y="189.83" width="59.50" height="5.35" fill="#a8002a"/>
<rect x="363.30" y="196.39" width="63.40" height="5.35" fill="#a8002a"/>
<rect x="362.90" y="202.95" width="63.80" height="5.35" fill="#a8002a"/>
<rect x="362.90" y="209.51" width="63.80" height="5.35" fill="#a8002a"/>
<rect x="362.10" y="216.07" width="64.60" height="5.35" fill="#a8002a"/>
<rect x="426.70" y="34.7" width="1" height="193.2" fill="#000"/>
<rect x="356.2" y="226.8" width="141.5" height="1.1" fill="#000"/>
<rect x="359" y="227.2" width="1" height="3.6" fill="#111"/>
<rect x="393" y="227.2" width="1" height="3.6" fill="#111"/>
<rect x="427" y="227.2" width="1" height="3.6" fill="#111"/>
<rect x="461" y="227.2" width="1" height="3.6" fill="#111"/>
<rect x="495" y="227.2" width="1" height="3.6" fill="#111"/>
<rect x="18.3" y="265.2" width="373.7" height="1.2" fill="#222"/>
<rect x="236.2" y="276.0" width="155.8" height="1.0" fill="#2a2a2a"/>
<rect x="18.3" y="286.6" width="215.90" height="1.4" fill="#222"/>
<rect x="236.2" y="286.6" width="73.50" height="1.4" fill="#222"/>
<rect x="313.7" y="286.6" width="78.30" height="1.4" fill="#222"/>
<rect x="18.3" y="288.0" width="373.7" height="6.8" fill="#c5c2ca"/>
<rect x="18.3" y="358.6" width="373.7" height="6.8" fill="#c5c2ca"/>
<rect x="18.3" y="383.4" width="373.7" height="1.4" fill="#222"/>
<g opacity="0.99">
<text x="7.0" y="15.3" font-size="11.4" font-weight="bold" fill="#000" stroke="#000" stroke-width="0.65" style="stroke-width:0.65px;stroke-linejoin:round">A</text>
<text x="345.9" y="15.3" font-size="11.4" font-weight="bold" fill="#000" stroke="#000" stroke-width="0.65" style="stroke-width:0.65px;stroke-linejoin:round">B</text>
<text x="7.0" y="259.1" font-size="11.4" font-weight="bold" fill="#000" stroke="#000" stroke-width="0.65" style="stroke-width:0.65px;stroke-linejoin:round">C</text>
<text x="138.10" y="28.10" font-size="5.35" text-anchor="middle" fill="#1a1a1a">GVHD 2-3</text>
<text x="245.50" y="28.10" font-size="5.35" text-anchor="middle" fill="#1a1a1a">Control</text>
<text x="79.90" y="35.93" font-size="5.35" text-anchor="end" fill="#1a1a1a">Enterobacter</text>
<text x="79.90" y="42.01" font-size="5.35" text-anchor="end" fill="#1a1a1a">Prevotella 9</text>
<text x="79.90" y="48.07" font-size="5.35" text-anchor="end" fill="#1a1a1a">Ruminococcus 2</text>
<text x="79.90" y="54.15" font-size="5.35" text-anchor="end" fill="#1a1a1a">Corynebacterium 1</text>
<text x="79.90" y="60.21" font-size="5.35" text-anchor="end" fill="#1a1a1a">Faecalibacterium</text>
<text x="79.90" y="66.29" font-size="5.35" text-anchor="end" fill="#1a1a1a">Stenotrophomonas</text>
<text x="79.90" y="72.36" font-size="5.35" text-anchor="end" fill="#1a1a1a">Staphylococcus</text>
<text x="79.90" y="78.43" font-size="5.35" text-anchor="end" fill="#1a1a1a">Lactobacillus</text>
<text x="79.90" y="84.50" font-size="5.35" text-anchor="end" fill="#1a1a1a">Multi-affiliation</text>
<text x="79.90" y="90.57" font-size="5.35" text-anchor="end" fill="#1a1a1a">Cetobacterium</text>
<text x="79.90" y="96.64" font-size="5.35" text-anchor="end" fill="#1a1a1a">Lachnoclostridium</text>
<text x="79.90" y="102.71" font-size="5.35" text-anchor="end" fill="#1a1a1a">UBA1819</text>
<text x="79.90" y="108.78" font-size="5.35" text-anchor="end" fill="#1a1a1a">Flavonifractor</text>
<text x="79.90" y="114.85" font-size="5.35" text-anchor="end" fill="#1a1a1a">Erysipelatoclostridium</text>
<text x="79.90" y="120.92" font-size="5.35" text-anchor="end" fill="#1a1a1a">Blautia</text>
<text x="79.90" y="126.99" font-size="5.35" text-anchor="end" fill="#1a1a1a">Granulicatella</text>
<text x="79.90" y="133.06" font-size="5.35" text-anchor="end" fill="#1a1a1a">[Ruminococcus] gnavus group</text>
<text x="79.90" y="139.13" font-size="5.35" text-anchor="end" fill="#1a1a1a">UC5-1-2E3</text>
<text x="79.90" y="145.20" font-size="5.35" text-anchor="end" fill="#1a1a1a">Fusicatenibacter</text>
<text x="79.90" y="151.27" font-size="5.35" text-anchor="end" fill="#1a1a1a">Sellimonas</text>
<text x="79.90" y="157.34" font-size="5.35" text-anchor="end" fill="#1a1a1a">Escherichia-Shigella</text>
<text class="nb" x="0" y="0" font-size="3.0" fill="#333" text-rendering="geometricPrecision" transform="translate(90.52,168.1) rotate(-90)">10</text>
<text class="nb" x="0" y="0" font-size="3.0" fill="#333" text-rendering="geometricPrecision" transform="translate(97.44,168.1) rotate(-90)">11</text>
<text class="nb" x="0" y="0" font-size="3.0" fill="#333" text-rendering="geometricPrecision" transform="translate(104.38,168.1) rotate(-90)">12</text>
<text class="nb" x="0" y="0" font-size="3.0" fill="#333" text-rendering="geometricPrecision" transform="translate(111.30,168.1) rotate(-90)">13</text>
<text class="nb" x="0" y="0" font-size="3.0" fill="#333" text-rendering="geometricPrecision" transform="translate(118.23,168.1) rotate(-90)">14</text>
<text class="nb" x="0" y="0" font-size="3.0" fill="#333" text-rendering="geometricPrecision" transform="translate(125.16,168.1) rotate(-90)">15</text>
<text class="nb" x="0" y="0" font-size="3.0" fill="#333" text-rendering="geometricPrecision" transform="translate(132.10,168.1) rotate(-90)">16</text>
<text class="nb" x="0" y="0" font-size="3.0" fill="#333" text-rendering="geometricPrecision" transform="translate(139.03,168.1) rotate(-90)">17</text>
<text class="nb" x="0" y="0" font-size="3.0" fill="#333" text-rendering="geometricPrecision" transform="translate(145.96,168.1) rotate(-90)">18</text>
<text class="nb" x="0" y="0" font-size="3.0" fill="#333" text-rendering="geometricPrecision" transform="translate(152.88,168.1) rotate(-90)">19</text>
<text class="nb" x="0" y="0" font-size="3.0" fill="#333" text-rendering="geometricPrecision" transform="translate(159.81,168.1) rotate(-90)">20</text>
<text class="nb" x="0" y="0" font-size="3.0" fill="#333" text-rendering="geometricPrecision" transform="translate(166.75,168.1) rotate(-90)">21</text>
<text class="nb" x="0" y="0" font-size="3.0" fill="#333" text-rendering="geometricPrecision" transform="translate(173.68,168.1) rotate(-90)">22</text>
<text class="nb" x="0" y="0" font-size="3.0" fill="#333" text-rendering="geometricPrecision" transform="translate(180.61,168.1) rotate(-90)">23</text>
<text class="nb" x="0" y="0" font-size="3.0" fill="#333" text-rendering="geometricPrecision" transform="translate(187.54,168.1) rotate(-90)">24</text>
<text class="nb" x="0" y="0" font-size="3.0" fill="#333" text-rendering="geometricPrecision" transform="translate(196.04,168.1) rotate(-90)">30</text>
<text class="nb" x="0" y="0" font-size="3.0" fill="#333" text-rendering="geometricPrecision" transform="translate(199.41,168.1) rotate(-90)">31</text>
<text class="nb" x="0" y="0" font-size="3.0" fill="#333" text-rendering="geometricPrecision" transform="translate(202.78,168.1) rotate(-90)">32</text>
<text class="nb" x="0" y="0" font-size="3.0" fill="#333" text-rendering="geometricPrecision" transform="translate(206.16,168.1) rotate(-90)">33</text>
<text class="nb" x="0" y="0" font-size="3.0" fill="#333" text-rendering="geometricPrecision" transform="translate(209.53,168.1) rotate(-90)">34</text>
<text class="nb" x="0" y="0" font-size="3.0" fill="#333" text-rendering="geometricPrecision" transform="translate(212.90,168.1) rotate(-90)">35</text>
<text class="nb" x="0" y="0" font-size="3.0" fill="#333" text-rendering="geometricPrecision" transform="translate(216.27,168.1) rotate(-90)">36</text>
<text class="nb" x="0" y="0" font-size="3.0" fill="#333" text-rendering="geometricPrecision" transform="translate(219.65,168.1) rotate(-90)">37</text>
<text class="nb" x="0" y="0" font-size="3.0" fill="#333" text-rendering="geometricPrecision" transform="translate(223.02,168.1) rotate(-90)">38</text>
<text class="nb" x="0" y="0" font-size="3.0" fill="#333" text-rendering="geometricPrecision" transform="translate(226.39,168.1) rotate(-90)">39</text>
<text class="nb" x="0" y="0" font-size="3.0" fill="#333" text-rendering="geometricPrecision" transform="translate(229.77,168.1) rotate(-90)">40</text>
<text class="nb" x="0" y="0" font-size="3.0" fill="#333" text-rendering="geometricPrecision" transform="translate(233.14,168.1) rotate(-90)">41</text>
<text class="nb" x="0" y="0" font-size="3.0" fill="#333" text-rendering="geometricPrecision" transform="translate(236.51,168.1) rotate(-90)">42</text>
<text class="nb" x="0" y="0" font-size="3.0" fill="#333" text-rendering="geometricPrecision" transform="translate(239.89,168.1) rotate(-90)">43</text>
<text class="nb" x="0" y="0" font-size="3.0" fill="#333" text-rendering="geometricPrecision" transform="translate(243.26,168.1) rotate(-90)">44</text>
<text class="nb" x="0" y="0" font-size="3.0" fill="#333" text-rendering="geometricPrecision" transform="translate(246.63,168.1) rotate(-90)">45</text>
<text class="nb" x="0" y="0" font-size="3.0" fill="#333" text-rendering="geometricPrecision" transform="translate(250.00,168.1) rotate(-90)">46</text>
<text class="nb" x="0" y="0" font-size="3.0" fill="#333" text-rendering="geometricPrecision" transform="translate(253.38,168.1) rotate(-90)">47</text>
<text class="nb" x="0" y="0" font-size="3.0" fill="#333" text-rendering="geometricPrecision" transform="translate(256.75,168.1) rotate(-90)">48</text>
<text class="nb" x="0" y="0" font-size="3.0" fill="#333" text-rendering="geometricPrecision" transform="translate(260.12,168.1) rotate(-90)">49</text>
<text class="nb" x="0" y="0" font-size="3.0" fill="#333" text-rendering="geometricPrecision" transform="translate(263.50,168.1) rotate(-90)">50</text>
<text class="nb" x="0" y="0" font-size="3.0" fill="#333" text-rendering="geometricPrecision" transform="translate(266.87,168.1) rotate(-90)">51</text>
<text class="nb" x="0" y="0" font-size="3.0" fill="#333" text-rendering="geometricPrecision" transform="translate(270.24,168.1) rotate(-90)">52</text>
<text class="nb" x="0" y="0" font-size="3.0" fill="#333" text-rendering="geometricPrecision" transform="translate(273.62,168.1) rotate(-90)">53</text>
<text class="nb" x="0" y="0" font-size="3.0" fill="#333" text-rendering="geometricPrecision" transform="translate(276.99,168.1) rotate(-90)">54</text>
<text class="nb" x="0" y="0" font-size="3.0" fill="#333" text-rendering="geometricPrecision" transform="translate(280.36,168.1) rotate(-90)">55</text>
<text class="nb" x="0" y="0" font-size="3.0" fill="#333" text-rendering="geometricPrecision" transform="translate(283.73,168.1) rotate(-90)">56</text>
<text class="nb" x="0" y="0" font-size="3.0" fill="#333" text-rendering="geometricPrecision" transform="translate(287.11,168.1) rotate(-90)">57</text>
<text class="nb" x="0" y="0" font-size="3.0" fill="#333" text-rendering="geometricPrecision" transform="translate(290.48,168.1) rotate(-90)">58</text>
<text class="nb" x="0" y="0" font-size="3.0" fill="#333" text-rendering="geometricPrecision" transform="translate(293.85,168.1) rotate(-90)">59</text>
<text class="nb" x="0" y="0" font-size="3.0" fill="#333" text-rendering="geometricPrecision" transform="translate(297.23,168.1) rotate(-90)">60</text>
<text x="305.40" y="73.00" font-size="4.4" text-anchor="start" class="nb" text-rendering="geometricPrecision" fill="#222">Abundance</text>
<text x="316.50" y="82.30" font-size="4.5" text-anchor="start" class="nb" text-rendering="geometricPrecision" fill="#222">65536</text>
<text x="316.50" y="92.30" font-size="4.5" text-anchor="start" class="nb" text-rendering="geometricPrecision" fill="#222">4096</text>
<text x="316.50" y="101.80" font-size="4.5" text-anchor="start" class="nb" text-rendering="geometricPrecision" fill="#222">256</text>
<text x="316.50" y="111.20" font-size="4.5" text-anchor="start" class="nb" text-rendering="geometricPrecision" fill="#222">16</text>
<text x="316.50" y="120.60" font-size="4.5" text-anchor="start" class="nb" text-rendering="geometricPrecision" fill="#222">1</text>
<text x="400.90" y="25.70" font-size="5.5" text-anchor="start" fill="#1a1a1a">GVHD 2-3</text>
<text x="448.60" y="25.70" font-size="5.5" text-anchor="start" fill="#1a1a1a">Control</text>
<text x="423.80" y="43.52" font-size="5.3" text-anchor="end" fill="#1a1a1a">Clostridiales</text>
<text x="423.80" y="50.09" font-size="5.3" text-anchor="end" fill="#1a1a1a">Clostridia</text>
<text x="423.80" y="56.64" font-size="5.3" text-anchor="end" fill="#1a1a1a">Lachnospiraceae</text>
<text x="423.80" y="63.20" font-size="5.3" text-anchor="end" fill="#1a1a1a">Ruminococcaceae</text>
<text x="423.80" y="69.77" font-size="5.3" text-anchor="end" fill="#1a1a1a">Lachnoclostridium</text>
<text x="423.80" y="76.33" font-size="5.3" text-anchor="end" fill="#1a1a1a">Blautia</text>
<text x="423.80" y="82.89" font-size="5.3" text-anchor="end" fill="#1a1a1a">UBA1819</text>
<text x="423.80" y="89.45" font-size="5.3" text-anchor="end" fill="#1a1a1a">Sellimonas</text>
<text x="423.80" y="96.01" font-size="5.3" text-anchor="end" fill="#1a1a1a">Gemella</text>
<text x="423.80" y="102.57" font-size="5.3" text-anchor="end" fill="#1a1a1a">Family_XI</text>
<text x="423.80" y="109.12" font-size="5.3" text-anchor="end" fill="#1a1a1a">Lachnospiraceae_unknown_genus</text>
<text x="423.80" y="115.69" font-size="5.3" text-anchor="end" fill="#1a1a1a">Flavonifractor</text>
<text x="423.80" y="122.25" font-size="5.3" text-anchor="end" fill="#1a1a1a">GCA_900066575</text>
<text x="423.80" y="128.81" font-size="5.3" text-anchor="end" fill="#1a1a1a">Oscillibacter</text>
<text x="423.80" y="135.37" font-size="5.3" text-anchor="end" fill="#1a1a1a">Alphaproteobacteria</text>
<text x="423.80" y="141.93" font-size="5.3" text-anchor="end" fill="#1a1a1a">Unknown_family_unknown_genus</text>
<text x="423.80" y="148.49" font-size="5.3" text-anchor="end" fill="#1a1a1a">Unknown_family</text>
<text x="423.80" y="155.05" font-size="5.3" text-anchor="end" fill="#1a1a1a">Rhodospirillales</text>
<text x="423.80" y="161.61" font-size="5.3" text-anchor="end" fill="#1a1a1a">Erysipelatoclostridium</text>
<text x="423.80" y="168.16" font-size="5.3" text-anchor="end" fill="#1a1a1a">Anaerostipes</text>
<text x="423.80" y="174.72" font-size="5.3" text-anchor="end" fill="#1a1a1a">Intestinimonas</text>
<text x="423.80" y="181.28" font-size="5.3" text-anchor="end" fill="#1a1a1a">Ruminiclostridium_5</text>
<text x="430.10" y="187.84" font-size="5.3" text-anchor="start" fill="#1a1a1a">Lautropia</text>
<text x="430.10" y="194.41" font-size="5.3" text-anchor="start" fill="#1a1a1a">Prevotella_9</text>
<text x="430.10" y="200.97" font-size="5.3" text-anchor="start" fill="#1a1a1a">Xanthomonadaceae</text>
<text x="430.10" y="207.53" font-size="5.3" text-anchor="start" fill="#1a1a1a">Stenotrophomonas</text>
<text x="430.10" y="214.09" font-size="5.3" text-anchor="start" fill="#1a1a1a">Xanthomonadales</text>
<text x="430.10" y="220.65" font-size="5.3" text-anchor="start" fill="#1a1a1a">Lactococcus</text>
<text x="359.00" y="238.80" font-size="5.3" text-anchor="middle" fill="#1a1a1a">−4</text>
<text x="393.10" y="238.80" font-size="5.3" text-anchor="middle" fill="#1a1a1a">−2</text>
<text x="427.20" y="238.80" font-size="5.3" text-anchor="middle" fill="#1a1a1a">0</text>
<text x="461.30" y="238.80" font-size="5.3" text-anchor="middle" fill="#1a1a1a">2</text>
<text x="495.40" y="238.80" font-size="5.3" text-anchor="middle" fill="#1a1a1a">4</text>
<text x="0" y="0" font-size="7.5" text-anchor="middle" fill="#111" style="stroke-width:0.3px" transform="translate(427.60,249.6) scale(0.715,1)">LDA score (log 10)</text>
<text x="271.50" y="272.80" font-size="5.25" text-anchor="middle" fill="#1a1a1a">Control</text>
<text x="353.00" y="272.80" font-size="5.25" text-anchor="middle" fill="#1a1a1a">aGVHD stage 2-3</text>
<text x="18.90" y="278.20" font-size="5.25" text-anchor="start" fill="#1a1a1a">Phylum</text>
<text x="66.90" y="278.20" font-size="5.25" text-anchor="start" fill="#1a1a1a">Family</text>
<text x="125.60" y="278.20" font-size="5.25" text-anchor="start" fill="#1a1a1a">Genus</text>
<text x="207.3" y="278.2" font-size="5.25" fill="#1a1a1a"><tspan font-style="italic">p</tspan> value</text>
<text x="267.40" y="284.00" font-size="5.25" text-anchor="middle" fill="#1a1a1a">Median&#160; [range]</text>
<text x="307.70" y="284.00" font-size="5.25" text-anchor="middle" fill="#1a1a1a">%</text>
<text x="348.10" y="284.00" font-size="5.25" text-anchor="middle" fill="#1a1a1a">Median [range]</text>
<text x="389.00" y="284.00" font-size="5.25" text-anchor="middle" fill="#1a1a1a">%</text>
<text x="18.90" y="293.20" font-size="5.25" text-anchor="start" fill="#1a1a1a">Negative-biomarker</text>
<text x="18.90" y="302.00" font-size="5.25" text-anchor="start" fill="#1a1a1a">Firmicutes</text>
<text x="67.00" y="302.00" font-size="5.7" text-anchor="start" font-weight="bold" font-style="italic" fill="#000">Lachnospiraceae</text>
<text x="215.70" y="302.00" font-size="5.25" text-anchor="middle" letter-spacing="0.2" fill="#1a1a1a">0.009**</text>
<text x="286.40" y="302.00" font-size="5.25" text-anchor="end" letter-spacing="0.2" fill="#1a1a1a">16.54 [0&#8211;61.75]</text>
<text x="309.80" y="302.00" font-size="5.25" text-anchor="end" letter-spacing="0.2" fill="#1a1a1a">96.8</text>
<text x="366.40" y="302.00" font-size="5.25" text-anchor="end" letter-spacing="0.2" fill="#1a1a1a">0.14 [0.01-11.56]</text>
<text x="392.00" y="302.00" font-size="5.25" text-anchor="end" letter-spacing="0.2" fill="#1a1a1a">100.0</text>
<text x="18.90" y="309.90" font-size="5.25" text-anchor="start" fill="#1a1a1a">Firmicutes</text>
<text x="66.90" y="310.40" font-size="5.35" text-anchor="start" style="stroke-width:0.06px" font-style="italic" fill="#1a1a1a">Lachnospiraceae</text>
<text x="126.40" y="308.70" font-size="5.5" text-anchor="start" style="stroke-width:0.06px" font-style="italic" fill="#1a1a1a">Blautia</text>
<text x="215.70" y="309.90" font-size="5.25" text-anchor="middle" letter-spacing="0.2" fill="#1a1a1a">0.020*</text>
<text x="286.40" y="309.90" font-size="5.25" text-anchor="end" letter-spacing="0.2" fill="#1a1a1a">0.62 [0-29.89]</text>
<text x="309.80" y="309.90" font-size="5.25" text-anchor="end" letter-spacing="0.2" fill="#1a1a1a">96.8</text>
<text x="366.40" y="309.90" font-size="5.25" text-anchor="end" letter-spacing="0.2" fill="#1a1a1a">0.004 [0-2.86]</text>
<text x="392.00" y="309.90" font-size="5.25" text-anchor="end" letter-spacing="0.2" fill="#1a1a1a">93.3</text>
<text x="18.90" y="317.50" font-size="5.25" text-anchor="start" fill="#1a1a1a">Firmicutes</text>
<text x="66.90" y="318.00" font-size="5.35" text-anchor="start" style="stroke-width:0.06px" font-style="italic" fill="#1a1a1a">Lachnospiraceae</text>
<text x="126.40" y="317.90" font-size="5.5" text-anchor="start" style="stroke-width:0.06px" font-style="italic" fill="#1a1a1a">Lachnoclostridium</text>
<text x="215.70" y="317.50" font-size="5.25" text-anchor="middle" letter-spacing="0.2" fill="#1a1a1a">0.019*</text>
<text x="286.40" y="317.50" font-size="5.25" text-anchor="end" letter-spacing="0.2" fill="#1a1a1a">0.23 [0-38.22]</text>
<text x="309.80" y="317.50" font-size="5.25" text-anchor="end" letter-spacing="0.2" fill="#1a1a1a">96.8</text>
<text x="366.40" y="317.50" font-size="5.25" text-anchor="end" letter-spacing="0.2" fill="#1a1a1a">0.01 [0-8.92]</text>
<text x="392.00" y="317.50" font-size="5.25" text-anchor="end" letter-spacing="0.2" fill="#1a1a1a">93.3</text>
<text x="18.90" y="325.20" font-size="5.25" text-anchor="start" fill="#1a1a1a">Firmicutes</text>
<text x="66.90" y="325.70" font-size="5.35" text-anchor="start" style="stroke-width:0.06px" font-style="italic" fill="#1a1a1a">Lachnospiraceae</text>
<text x="126.40" y="324.40" font-size="5.5" text-anchor="start" style="stroke-width:0.06px" font-style="italic" fill="#1a1a1a">Sellimonas</text>
<text x="215.70" y="325.20" font-size="5.25" text-anchor="middle" letter-spacing="0.2" fill="#1a1a1a">0.014*</text>
<text x="286.40" y="325.20" font-size="5.25" text-anchor="end" letter-spacing="0.2" fill="#1a1a1a">0.04 [0-19.25]</text>
<text x="309.80" y="325.20" font-size="5.25" text-anchor="end" letter-spacing="0.2" fill="#1a1a1a">87.1</text>
<text x="366.40" y="325.20" font-size="5.25" text-anchor="end" letter-spacing="0.2" fill="#1a1a1a">0.001 [0-0.97]</text>
<text x="392.00" y="325.20" font-size="5.25" text-anchor="end" letter-spacing="0.2" fill="#1a1a1a">60.0</text>
<text x="18.90" y="332.90" font-size="5.25" text-anchor="start" fill="#1a1a1a">Firmicutes</text>
<text x="67.00" y="332.90" font-size="5.7" text-anchor="start" font-weight="bold" font-style="italic" fill="#000">Ruminococcaceae</text>
<text x="215.70" y="332.90" font-size="5.25" text-anchor="middle" letter-spacing="0.2" fill="#1a1a1a">0.018*</text>
<text x="286.40" y="332.90" font-size="5.25" text-anchor="end" letter-spacing="0.2" fill="#1a1a1a">2.15 [0.003-37.69]</text>
<text x="309.80" y="332.90" font-size="5.25" text-anchor="end" letter-spacing="0.2" fill="#1a1a1a">100.0</text>
<text x="366.40" y="332.90" font-size="5.25" text-anchor="end" letter-spacing="0.2" fill="#1a1a1a">0.05 [0.002-7.92]</text>
<text x="392.00" y="332.90" font-size="5.25" text-anchor="end" letter-spacing="0.2" fill="#1a1a1a">100.0</text>
<text x="18.90" y="340.70" font-size="5.25" text-anchor="start" fill="#1a1a1a">Firmicutes</text>
<text x="66.90" y="341.20" font-size="5.35" text-anchor="start" style="stroke-width:0.06px" font-style="italic" fill="#1a1a1a">Ruminococcaceae</text>
<text x="126.40" y="340.90" font-size="5.5" text-anchor="start" style="stroke-width:0.06px" font-style="italic" fill="#1a1a1a">Faecalibacterium UBA1819</text>
<text x="215.70" y="340.70" font-size="5.25" text-anchor="middle" letter-spacing="0.2" fill="#1a1a1a">0.011*</text>
<text x="286.40" y="340.70" font-size="5.25" text-anchor="end" letter-spacing="0.2" fill="#1a1a1a">0.02 [0-16.01]</text>
<text x="309.80" y="340.70" font-size="5.25" text-anchor="end" letter-spacing="0.2" fill="#1a1a1a">90.3</text>
<text x="366.40" y="340.70" font-size="5.25" text-anchor="end" letter-spacing="0.2" fill="#1a1a1a">0.001 [0-0.60]</text>
<text x="392.00" y="340.70" font-size="5.25" text-anchor="end" letter-spacing="0.2" fill="#1a1a1a">53.3</text>
<text x="18.90" y="348.50" font-size="5.25" text-anchor="start" fill="#1a1a1a">Firmicutes</text>
<text x="66.90" y="349.00" font-size="5.35" text-anchor="start" style="stroke-width:0.06px" font-style="italic" fill="#1a1a1a">Ruminococcaceae</text>
<text x="126.40" y="348.50" font-size="5.5" text-anchor="start" style="stroke-width:0.06px" font-style="italic" fill="#1a1a1a">Flavonifractor</text>
<text x="215.70" y="348.50" font-size="5.25" text-anchor="middle" letter-spacing="0.2" fill="#1a1a1a">0.012*</text>
<text x="286.40" y="348.50" font-size="5.25" text-anchor="end" letter-spacing="0.2" fill="#1a1a1a">0.43 [0-6.63]</text>
<text x="309.80" y="348.50" font-size="5.25" text-anchor="end" letter-spacing="0.2" fill="#1a1a1a">83.9</text>
<text x="366.40" y="348.50" font-size="5.25" text-anchor="end" letter-spacing="0.2" fill="#1a1a1a">0.002 [0-6.07]</text>
<text x="392.00" y="348.50" font-size="5.25" text-anchor="end" letter-spacing="0.2" fill="#1a1a1a">73.3</text>
<text x="18.90" y="356.10" font-size="5.25" text-anchor="start" fill="#1a1a1a">Firmicutes</text>
<text x="66.90" y="356.60" font-size="5.35" text-anchor="start" style="stroke-width:0.06px" font-style="italic" fill="#1a1a1a">Erysipelotrichaceae</text>
<text x="126.40" y="356.10" font-size="5.5" text-anchor="start" style="stroke-width:0.06px" font-style="italic" fill="#1a1a1a">Erysipelatoclostridium</text>
<text x="215.70" y="356.10" font-size="5.25" text-anchor="middle" letter-spacing="0.2" fill="#1a1a1a">0.002**</text>
<text x="286.40" y="356.10" font-size="5.25" text-anchor="end" letter-spacing="0.2" fill="#1a1a1a">0.02 [0-1.53]</text>
<text x="309.80" y="356.10" font-size="5.25" text-anchor="end" letter-spacing="0.2" fill="#1a1a1a">83.9</text>
<text x="366.40" y="356.10" font-size="5.25" text-anchor="end" letter-spacing="0.2" fill="#1a1a1a">0.00 [0-0.05]</text>
<text x="392.00" y="356.10" font-size="5.25" text-anchor="end" letter-spacing="0.2" fill="#1a1a1a">46.7</text>
<text x="18.90" y="363.90" font-size="5.25" text-anchor="start" fill="#1a1a1a">Positive-biomarker</text>
<text x="18.90" y="372.90" font-size="5.25" text-anchor="start" fill="#1a1a1a">Bacteroidetes</text>
<text x="66.90" y="373.40" font-size="5.35" text-anchor="start" style="stroke-width:0.06px" font-style="italic" fill="#1a1a1a">Prevotellaceae</text>
<text x="126.40" y="372.90" font-size="5.5" text-anchor="start" style="stroke-width:0.06px" font-style="italic" fill="#1a1a1a">Prevotella 9</text>
<text x="215.70" y="372.90" font-size="5.25" text-anchor="middle" letter-spacing="0.2" fill="#1a1a1a">0.004**</text>
<text x="286.40" y="372.90" font-size="5.25" text-anchor="end" letter-spacing="0.2" fill="#1a1a1a">0.00 [0-0.21]</text>
<text x="309.80" y="372.90" font-size="5.25" text-anchor="end" letter-spacing="0.2" fill="#1a1a1a">29.0</text>
<text x="366.40" y="372.90" font-size="5.25" text-anchor="end" letter-spacing="0.2" fill="#1a1a1a">0.01 [0-4.62]</text>
<text x="392.00" y="372.90" font-size="5.25" text-anchor="end" letter-spacing="0.2" fill="#1a1a1a">60.0</text>
<text x="18.90" y="380.90" font-size="5.25" text-anchor="start" fill="#1a1a1a">Proteobacteria</text>
<text x="66.90" y="381.40" font-size="5.35" text-anchor="start" style="stroke-width:0.06px" font-style="italic" fill="#1a1a1a">xanthomonadaceae</text>
<text x="126.40" y="380.90" font-size="5.5" text-anchor="start" style="stroke-width:0.06px" font-style="italic" fill="#1a1a1a">Stenotrophomonas</text>
<text x="215.70" y="380.90" font-size="5.25" text-anchor="middle" letter-spacing="0.2" fill="#1a1a1a">0.009**</text>
<text x="286.40" y="380.90" font-size="5.25" text-anchor="end" letter-spacing="0.2" fill="#1a1a1a">0.00 [0-0.10]</text>
<text x="309.80" y="380.90" font-size="5.25" text-anchor="end" letter-spacing="0.2" fill="#1a1a1a">35.5</text>
<text x="366.40" y="380.90" font-size="5.25" text-anchor="end" letter-spacing="0.2" fill="#1a1a1a">0.001 [0-21.62]</text>
<text x="392.00" y="380.90" font-size="5.25" text-anchor="end" letter-spacing="0.2" fill="#1a1a1a">66.7</text>
</g>
</svg>
</body></html>
